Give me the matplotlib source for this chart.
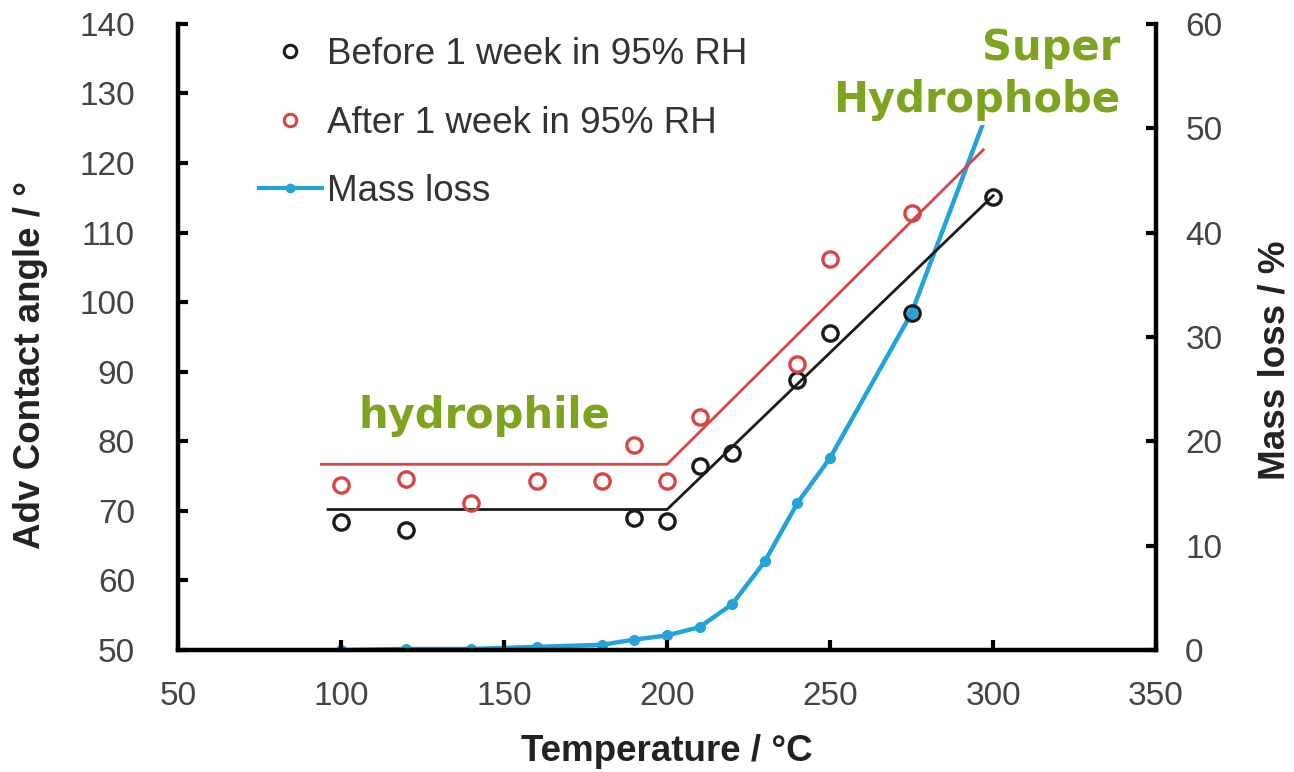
import matplotlib
matplotlib.use("Agg")
import matplotlib.pyplot as plt
from matplotlib.lines import Line2D

plt.rcParams['font.family'] = ['Liberation Sans', 'DejaVu Sans']

# contact angle before / after humidity exposure
temp_before = [100, 120, 190, 200, 210, 220, 240, 250, 275, 300]
angle_before = [68.4, 67.3, 69.0, 68.6, 76.5, 78.3, 88.8, 95.6, 98.4, 115.1]

temp_after = [100, 120, 140, 160, 180, 190, 200, 210, 240, 250, 275]
angle_after = [73.7, 74.6, 71.1, 74.3, 74.3, 79.5, 74.3, 83.5, 91.1, 106.2, 112.8]

# piecewise trend lines
fit_before_x = [96, 200, 300]
fit_before_y = [70.2, 70.2, 115.3]
fit_after_x = [94, 200, 297]
fit_after_y = [76.7, 76.7, 121.9]

# mass loss (right axis)
temp_mass = [100, 120, 140, 160, 180, 190, 200, 210, 220, 230, 240, 250, 275, 300]
mass_loss = [0.0, 0.1, 0.1, 0.3, 0.5, 1.0, 1.4, 2.2, 4.4, 8.5, 14.1, 18.4, 32.3, 53.0]

black = '#1a1a1a'
red = '#d84545'
blue = '#22a3d9'
green = '#7ea31f'
grey = '#444444'

fig = plt.figure(figsize=(12.94, 7.72), dpi=100)
ax = fig.add_axes([0.1376, 0.158, 0.7558, 0.811])
ax2 = ax.twinx()

ax2.plot(temp_mass, mass_loss, '-o', color=blue, lw=3.2, ms=7, zorder=2)
ax2.set_ylim(0, 60)
ax2.set_yticks(range(0, 61, 10))

ax.set_zorder(ax2.get_zorder() + 1)
ax.patch.set_visible(False)

ax.plot(fit_before_x, fit_before_y, color=black, lw=2.0)
ax.plot(fit_after_x, fit_after_y, color=red, lw=2.0)
ax.plot(temp_before, angle_before, 'o', mfc='none', mec=black, ms=11, mew=2.4)
ax.plot(temp_after, angle_after, 'o', mfc='none', mec=red, ms=11, mew=2.4)

ax.set_xlim(50, 350)
ax.set_ylim(50, 140)
ax.set_xticks(range(50, 351, 50))
ax.set_yticks(range(50, 141, 10))

for a in (ax, ax2):
    a.spines['top'].set_visible(False)
    for s in ('left', 'right', 'bottom'):
        a.spines[s].set_linewidth(3.2)
        a.spines[s].set_color('black')
ax.spines['right'].set_visible(False)
ax2.spines['left'].set_visible(False)
ax2.spines['bottom'].set_visible(False)

ax.tick_params(axis='y', direction='in', length=7, width=3, pad=31,
               labelsize=24, labelcolor=grey)
ax.tick_params(axis='x', direction='in', length=7, width=3, pad=22,
               labelsize=24, labelcolor=grey)
ax2.tick_params(axis='y', direction='in', length=7, width=3, pad=21,
                labelsize=24, labelcolor=grey)

lab = dict(fontweight='bold', color='#222222')
ax.set_xlabel('Temperature / \u00b0C', fontsize=26.5, labelpad=16, **lab)
ax.set_ylabel('Adv Contact angle / \u00b0', fontsize=26.5, **lab)
ax2.set_ylabel('Mass loss / %', fontsize=26.5, **lab)
ax.yaxis.set_label_coords(-0.133, 0.455)
ax2.yaxis.set_label_coords(1.104, 0.463)

handles = [
    Line2D([], [], ls='none', marker='o', mfc='none', mec=black, ms=9, mew=2.2),
    Line2D([], [], ls='none', marker='o', mfc='none', mec=red, ms=9, mew=2.2),
    Line2D([], [], color=blue, lw=3, marker='o', ms=6),
]
labels = ['Before 1 week in 95% RH', 'After 1 week in 95% RH', 'Mass loss']
ax.legend(handles, labels, loc='upper left', bbox_to_anchor=(0.049, 1.032),
          frameon=False, fontsize=26.5, labelspacing=0.91, handlelength=1.7,
          handletextpad=0.15, labelcolor='#333333')

ax.text(0.184, 0.3546, 'hydrophile', transform=ax.transAxes,
        family='DejaVu Sans', fontweight='bold', fontsize=30, color=green,
        ha='left', va='baseline')
ax.text(0.963, 0.859, 'Super\nHydrophobe', transform=ax.transAxes,
        family='DejaVu Sans', fontweight='bold', fontsize=30, color=green,
        ha='right', va='baseline', multialignment='right', linespacing=1.3,
        zorder=5, bbox=dict(facecolor='white', edgecolor='none', pad=3))

fig.savefig('out.png', dpi=100)
